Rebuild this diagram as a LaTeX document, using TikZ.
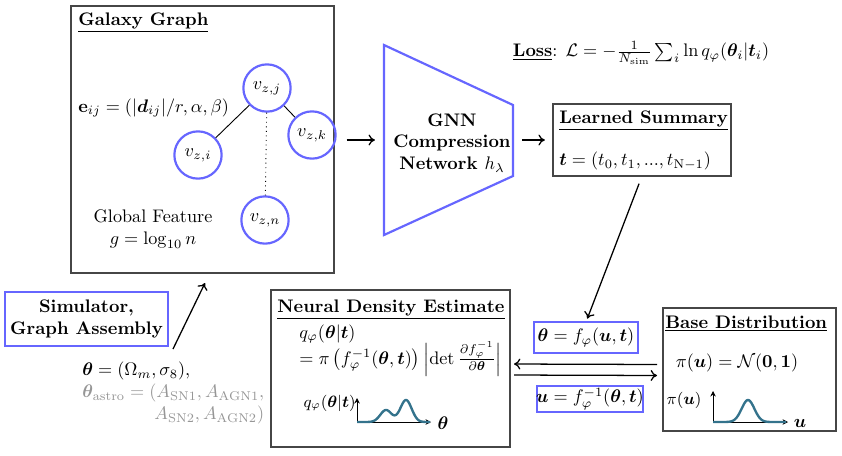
\documentclass[tikz,border=0pt]{standalone}
\usepackage{amsmath,amssymb,bm}
\usetikzlibrary{calc,arrows.meta,fit}
\definecolor{nblue}{RGB}{102,102,255}
\definecolor{curvec}{RGB}{52,115,140}
\definecolor{boxgray}{RGB}{70,70,70}
\definecolor{softgray}{RGB}{150,150,150}
\begin{document}
\begin{tikzpicture}[x=0.55pt,y=-0.55pt,
  box/.style={draw=boxgray, line width=0.7pt, inner sep=0pt, outer sep=0pt},
  bluebox/.style={draw=nblue, line width=1.2pt, inner sep=0pt, outer sep=0pt},
  vert/.style={circle, draw=nblue, line width=1.2pt, minimum size=26pt, inner sep=0pt},
  arr/.style={-{To[length=3.5pt,width=6pt]}, line width=0.7pt},
  axis/.style={-{Stealth[length=3pt,width=3pt]}, line width=0.4pt},
  curve/.style={draw=curvec, line width=1.3pt},
  title/.style={anchor=base west, inner sep=0pt, font=\bfseries},
  txt/.style={inner sep=0pt}]
\useasboundingbox (0,0) rectangle (842,455);

% ---------- Galaxy graph ----------
\node[box, fit={(71,6) (334,273)}] (gg) {};
\node[title] (ggt) at (78,25) {\underline{Galaxy Graph}};
\node[vert] (vj) at (267,88) {$v_{z,j}$};
\node[vert] (vk) at (312,135) {$v_{z,k}$};
\node[vert] (vi) at (198,155) {$v_{z,i}$};
\node[vert] (vn) at (265,220) {$v_{z,n}$};
\draw[line width=0.5pt] (vj) -- (vi);
\draw[line width=0.5pt] (vj) -- (vk);
\draw[line width=0.5pt, dotted] (vj) -- (vn);
\node[txt, anchor=west] (eij) at (78,108) {$\mathbf{e}_{ij} = (|\bm{d}_{ij}|/r, \alpha, \beta)$};
\node[txt, align=center] (glob) at (153,229) {Global Feature\\$g=\log_{10} n$};

% ---------- GNN ----------
\draw[draw=nblue, line width=1.2pt] (384,45) -- (513,105) -- (513,176) -- (384,235) -- cycle;
\coordinate (gnnL) at (384,140);
\coordinate (gnnR) at (513,140);
\node[txt, align=center, font=\bfseries] (gnn) at (452,143) {GNN\\Compression\\Network $h_\lambda$};
\draw[arr, shorten <=7pt, shorten >=5pt] (gg.east |- gnnL) -- (gnnL);

% ---------- Loss ----------
\node[txt] (loss) at (641,53) {\underline{\textbf{Loss}}: $\mathcal{L} = -\frac{1}{N_{\rm sim}}\sum_i \ln q_\varphi(\bm{\theta}_i|\bm{t}_i)$};

% ---------- Learned summary ----------
\node[box, fit={(553,104) (731,176)}] (ls) {};
\node[title] (lst) at (559,123) {\underline{Learned Summary}};
\node[txt, anchor=west] (lsv) at (559,161) {$\bm{t} = (t_0, t_1, ..., t_{\mathrm{N}-1})$};
\draw[arr, shorten <=5pt, shorten >=4.5pt] (gnnR) -- (ls.west |- gnnR);

% ---------- theta = f box ----------
\node[bluebox, fit={(534,322) (638,353)}] (tf) {};
\node[txt] (tft) at (tf.center) {$\bm{\theta} = f_\varphi(\bm{u}, \bm{t})$};
\draw[arr, shorten <=4.5pt, shorten >=2pt] (ls.south) -- (tf.north);

% ---------- u = f^-1 box ----------
\node[bluebox, fit={(537,386) (643,412)}] (uf) {};
\node[txt] (uft) at (uf.center) {$\bm{u} = f_\varphi^{-1}(\bm{\theta}, \bm{t})$};

% ---------- Neural density estimate ----------
\node[box, fit={(271,290) (510,447)}] (nde) {};
\node[title] (ndet) at (277,312) {\underline{Neural Density Estimate}};
\node[txt, anchor=west] (nde1) at (299,334) {$q_\varphi(\bm{\theta}|\bm{t})$};
\node[txt, anchor=west] (nde2) at (299,359) {$= \pi\left(f_\varphi^{-1}(\bm{\theta},\bm{t})\right)\left|\det\frac{\partial f_\varphi^{-1}}{\partial\bm{\theta}}\right|$};
\draw[axis] (357,422) -- (431,422);
\draw[axis] (357,422) -- (357,398);
\draw[curve] plot[domain=357:430, samples=90, smooth] (\x, {422 - 12*exp(-((\x-386)/8)^2) - 22*exp(-((\x-406)/8)^2)});
\node[txt, anchor=east, font=\small] (ndeq) at (356,403) {$q_\varphi(\bm{\theta}|\bm{t})$};
\node[txt] (ndeth) at (443,423) {$\bm{\theta}$};

% ---------- Base distribution ----------
\node[box, fit={(663,308) (836,431)}] (bd) {};
\node[title] (bdt) at (665,328) {\underline{Base Distribution}};
\node[txt] (bdf) at (737,363) {$\pi(\bm{u}) = \mathcal{N}(\mathbf{0},\mathbf{1})$};
\draw[axis] (713,422) -- (788,422);
\draw[axis] (713,422) -- (713,391);
\draw[curve] plot[domain=713:786, samples=80, smooth] (\x, {422 - 22*exp(-((\x-748)/9)^2)});
\node[txt, font=\small] (bdpi) at (684,400) {$\pi(\bm{u})$};
\node[txt] (bdu) at (800,423) {$\bm{u}$};

% ---------- flow arrows ----------
\draw[arr, shorten <=3.3pt, shorten >=2.2pt] ($(bd.west)+(0,-5)$) -- ($(nde.east)+(0,-4.5)$);
\draw[arr, shorten <=2.2pt, shorten >=3.3pt] ($(nde.east)+(0,6.5)$) -- ($(bd.west)+(0,6)$);

% ---------- Simulator ----------
\node[bluebox, fit={(5,292) (168,346)}] (sim) {};
\node[txt, align=center, font=\bfseries] (simt) at (sim.center) {Simulator,\\Graph Assembly};
\coordinate (simA) at (173,349);
\coordinate (simB) at (205,283);
\draw[arr] (simA) -- (simB);
\node[txt, anchor=north west] (th) at (82,360) {\begin{tabular}{@{}l@{}}$\bm{\theta} = (\Omega_m, \sigma_8)$,\\
\color{softgray}$\bm{\theta}_{\rm astro} = (A_{\rm SN1}, A_{\rm AGN1},$\\
\multicolumn{1}{@{}r@{}}{\color{softgray}$A_{\rm SN2}, A_{\rm AGN2})$}\end{tabular}};
\end{tikzpicture}
\end{document}
